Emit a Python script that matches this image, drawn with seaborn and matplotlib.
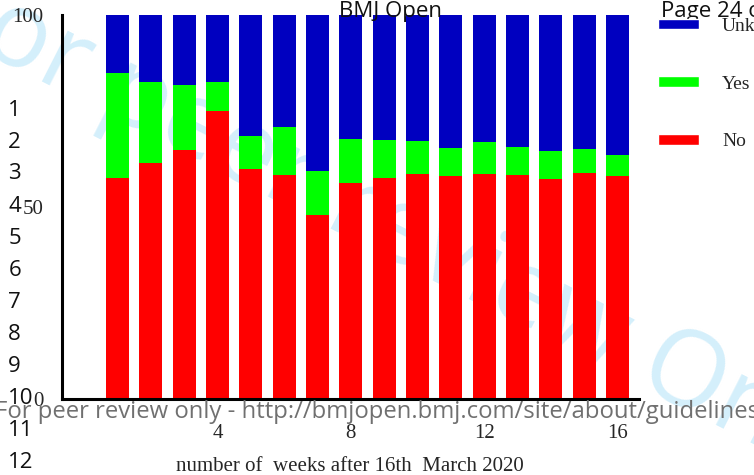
import numpy as np
import pandas as pd
import matplotlib
matplotlib.use("Agg")
import matplotlib.pyplot as plt
import seaborn as sns
from matplotlib.patches import Patch

# percent of responses per week
weeks = list(range(1, 17))
no = [57.5, 61.4, 64.8, 75.0, 59.9, 58.4, 47.9, 56.3, 57.5, 58.6, 58.1, 58.6, 58.4, 57.3, 58.8, 58.0]
yes = [27.4, 21.2, 16.9, 7.6, 8.6, 12.5, 11.4, 11.4, 9.9, 8.5, 7.3, 8.3, 7.3, 7.2, 6.3, 5.5]
unknown = [100 - n - y for n, y in zip(no, yes)]

df = pd.DataFrame({"week": [str(w) for w in weeks], "no": no, "yes": yes, "unknown": unknown})
df["no_yes"] = df["no"] + df["yes"]
df["total"] = df["no_yes"] + df["unknown"]

sns.set_style("white")
plt.rcParams["font.family"] = ["Liberation Serif", "DejaVu Serif"]

fig = plt.figure(figsize=(7.54, 4.75), dpi=100)
ax = fig.add_axes([0.0818, 0.1592, 0.7657, 0.8092])
ax.set_facecolor("none")

order = df["week"].tolist()
bw = 0.69
sns.barplot(data=df, x="week", y="total", order=order, color="#0000C0", saturation=1, width=bw, ax=ax)
sns.barplot(data=df, x="week", y="no_yes", order=order, color="#00FF00", saturation=1, width=bw, ax=ax)
sns.barplot(data=df, x="week", y="no", order=order, color="#FF0000", saturation=1, width=bw, ax=ax)
for p in ax.patches:
    p.set_linewidth(0)

ax.set_xlim(-1.674, 15.65)
ax.set_ylim(0, 100)
ax.set_yticks([0, 50, 100])
ax.set_yticklabels(["0", "50", "100"], fontsize=15)
ax.set_xticks([3, 7, 11, 15])
ax.set_xticklabels(["4", "8", "12", "16"], fontsize=15)
ax.set_ylabel("")
ax.set_xlabel("number of  weeks after 16th  March 2020", fontsize=15, labelpad=10)
ax.tick_params(axis="both", direction="out", length=11, width=2.2, color="black", pad=2)
ax.tick_params(axis="x", pad=7)
sns.despine(ax=ax)
for s in ["left", "bottom"]:
    ax.spines[s].set_linewidth(2.2)
    ax.spines[s].set_color("black")
ax.spines["left"].set_zorder(5)

handles = [Patch(facecolor="#0000C0", label="Unknown"),
           Patch(facecolor="#00FF00", label="Yes"),
           Patch(facecolor="#FF0000", label="No")]
fig.legend(handles=handles, loc="upper left", bbox_to_anchor=(0.862, 0.979), frameon=False,
           fontsize=14, handlelength=2.1, handleheight=0.46, handletextpad=1.2,
           labelspacing=2.1, borderaxespad=0)

# page furniture from the source PDF
sans = ["Open Sans", "DejaVu Sans"]
fig.text(395 / 754, 1 - 230 / 475, "For peer review Only", fontsize=76, color="#d4effb", rotation=-27,
         rotation_mode="anchor", ha="center", va="center", family=sans, zorder=-1)
fig.text(0.518, 0.975, "BMJ Open", fontsize=16, family=sans, ha="center", va="center", color="#111111")
fig.text(0.877, 0.975, "Page 24 of 24", fontsize=16, family=sans, ha="left", va="center", color="#111111")
for i in range(1, 13):
    fig.text(0.011, 1 - (110 + (i - 1) * 32.0) / 475, str(i), fontsize=16, family=sans,
             ha="left", va="center", color="#111111")
fig.text(-0.006, 1 - 412 / 475, "For peer review only - http://bmjopen.bmj.com/site/about/guidelines.xhtml",
         fontsize=17.2, family=sans, ha="left", va="center", color="#707070")

fig.savefig("out.png", dpi=100)
